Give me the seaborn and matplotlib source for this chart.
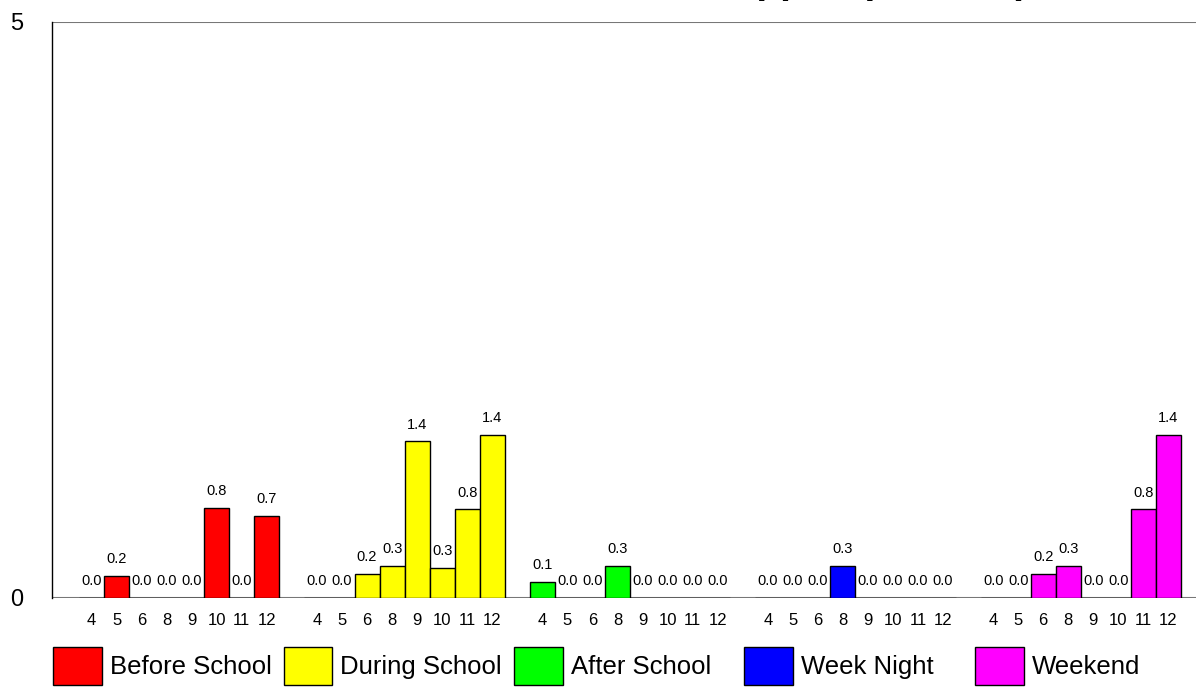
import matplotlib
matplotlib.use("Agg")
import matplotlib.pyplot as plt
from matplotlib.patches import Patch
import seaborn as sns
import pandas as pd

grades = ["4", "5", "6", "8", "9", "10", "11", "12"]
periods = ["Before School", "During School", "After School", "Week Night", "Weekend"]
before_school = [0.0, 0.19, 0.0, 0.0, 0.0, 0.78, 0.0, 0.71]
during_school = [0.0, 0.0, 0.21, 0.28, 1.36, 0.26, 0.77, 1.415]
after_school = [0.14, 0.0, 0.0, 0.28, 0.0, 0.0, 0.0, 0.0]
week_night = [0.0, 0.0, 0.0, 0.28, 0.0, 0.0, 0.0, 0.0]
weekend = [0.0, 0.0, 0.21, 0.28, 0.0, 0.0, 0.77, 1.415]
colors = ["#FF0000", "#FFFF00", "#00FF00", "#0000FF", "#FF00FF"]
title = "Meals Skipped (Percent)"

series = [before_school, during_school, after_school, week_night, weekend]

rows = []
order = []
tick_labels = []
for i, (p, vals) in enumerate(zip(periods, series)):
    for g, v in zip(grades, vals):
        key = f"{p}|{g}"
        rows.append({"slot": key, "period": p, "grade": g, "value": v})
        order.append(key)
        tick_labels.append(g)
    if i < len(periods) - 1:
        order.append(f"gap{i}")
        tick_labels.append("")
df = pd.DataFrame(rows)

sns.set_theme(style="white")
plt.rcParams["font.family"] = ["Liberation Sans", "DejaVu Sans"]
plt.rcParams["text.color"] = "black"
plt.rcParams["xtick.color"] = "black"
plt.rcParams["ytick.color"] = "black"

fig = plt.figure(figsize=(11.96, 6.93), dpi=100)
ax = fig.add_axes([52 / 1196, 95 / 693, 1144 / 1196, 576 / 693])

sns.barplot(data=df, x="slot", y="value", hue="period", order=order,
            hue_order=periods, palette=colors, dodge=False, width=1.0,
            edgecolor="black", linewidth=1, saturation=1, legend=False,
            errorbar=None, ax=ax)

for cont in ax.containers:
    ax.bar_label(cont, fmt="%.1f", padding=7, fontsize=10.5, color="black")

ax.set_xticks(range(len(order)))
ax.set_xticklabels(tick_labels, fontsize=12)
ax.tick_params(axis="x", length=0, pad=11, labelcolor="black")
ax.set_xlim(-1.58, 44.1)
ax.set_ylim(0, 5)
ax.set_yticks([0, 5])
ax.set_yticklabels(["0", "5"], fontsize=17)
ax.tick_params(axis="y", direction="out", length=13, width=1.5,
               color="#777777", pad=8, labelcolor="black")
ax.set_xlabel("")
ax.set_ylabel("")
ax.grid(axis="y", color="#777777", linewidth=1.5)
ax.grid(axis="x", visible=False)
ax.set_axisbelow(True)
for s in ["top", "right", "bottom"]:
    ax.spines[s].set_visible(False)
ax.spines["left"].set_color("black")
ax.spines["left"].set_linewidth(1)

fig.text(1028 / 1196, 1 + 6.5 / 693, title, ha="right", va="baseline",
         fontsize=28, fontweight="bold", color="black")

for i, (p, c) in enumerate(zip(periods, colors)):
    fig.legend(handles=[Patch(facecolor=c, edgecolor="black", linewidth=1, label=p)],
               loc="center left", bbox_to_anchor=((53 + 230.5 * i) / 1196, 27 / 693),
               frameon=False, fontsize=18.5, handlelength=1.9, handleheight=1.85,
               handletextpad=0.3, borderpad=0, borderaxespad=0, labelcolor="black")

fig.savefig("out.png", dpi=100)
